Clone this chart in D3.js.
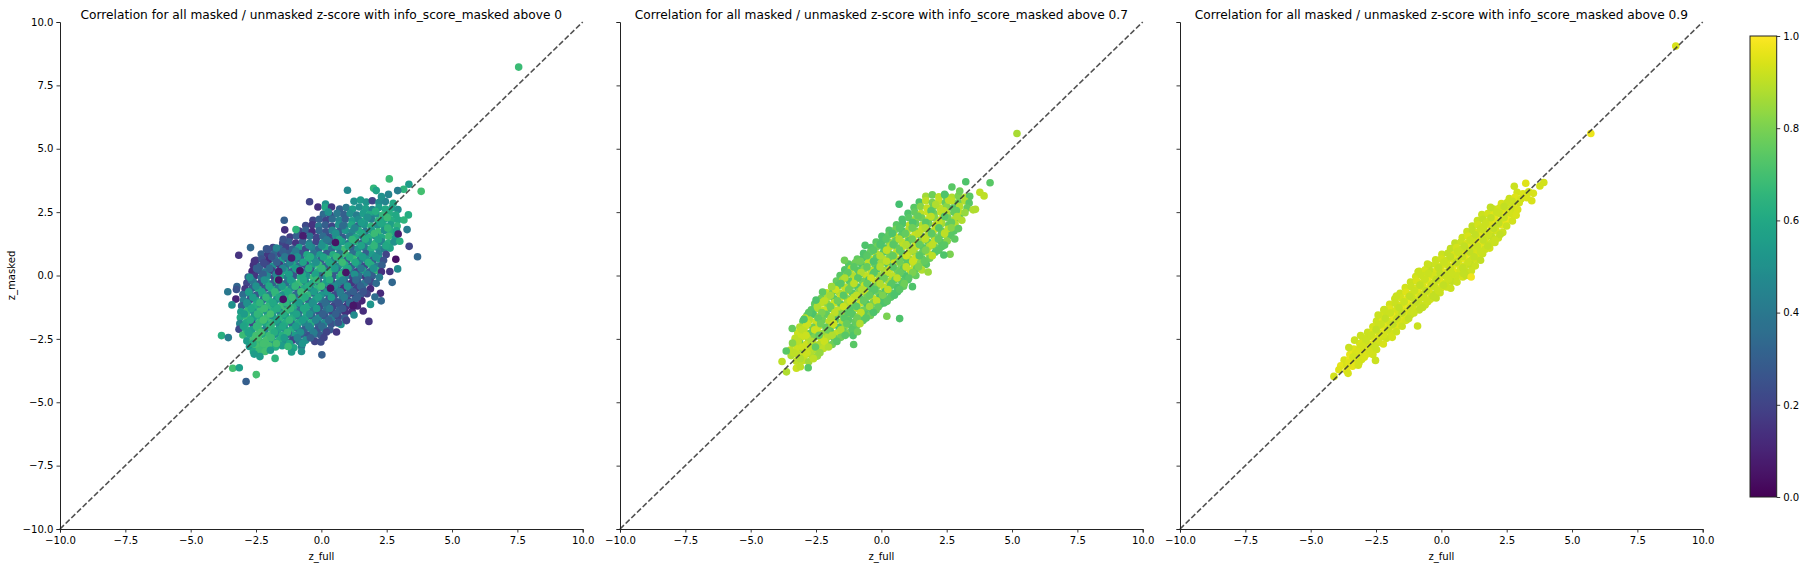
<!DOCTYPE html>
<html><head><meta charset="utf-8">
<script src="https://cdn.jsdelivr.net/npm/d3@7"></script>
<style>html,body{margin:0;background:#fff}svg{display:block}text{font-family:"DejaVu Sans",sans-serif;fill:#000}</style>
</head><body><svg id="c" width="1806" height="568"></svg>
<script>
const tickValues=[-10,-7.5,-5,-2.5,0,2.5,5,7.5,10];
const colorTicks=[0,0.2,0.4,0.6,0.8,1];
const thresholds=["0","0.7","0.9"];
// flat lists: z_full, z_masked, info_score_masked
const panel1=[
1.25,2.93,.5,1.5,2.98,.55,1.72,2.9,.52,1.95,2.95,.2,2.2,2.88,.48,2.45,2.92,.45,2.75,2.85,.6,
.7,2.62,.3,.95,2.68,.4,1.2,2.62,.55,1.45,2.7,.5,1.7,2.64,.56,1.95,2.6,.45,2.2,2.68,.55,2.45,2.62,.6,2.7,2.66,.58,2.93,2.6,.5,
.08,2.42,.35,.34,2.38,.22,.6,2.45,.4,.86,2.4,.3,1.1,2.44,.5,1.35,2.38,.42,1.6,2.45,.55,1.85,2.4,.6,2.1,2.43,.5,2.35,2.38,.66,2.6,2.44,.62,2.85,2.38,.6,
-.32,2.18,.2,-.08,2.22,.3,.18,2.17,.2,.42,2.23,.35,.68,2.18,.45,.92,2.22,.3,1.18,2.16,.55,1.42,2.22,.48,1.68,2.18,.6,1.92,2.22,.42,2.18,2.16,.65,2.42,2.22,.58,2.68,2.17,.62,2.93,2.2,.6,
-.6,1.97,.22,-.35,2.0,.15,-.1,1.95,.4,.15,1.99,.3,.4,1.94,.2,.66,2,.5,.9,1.95,.38,1.15,1.99,.6,1.4,1.95,.3,1.65,2,.52,1.9,1.94,.65,2.15,1.98,.5,2.4,1.95,.6,2.65,2,.56,2.9,1.95,.65,
-.85,1.75,.2,-.6,1.78,.3,-.35,1.73,.12,-.08,1.77,.33,.18,1.72,.25,.42,1.78,.45,.68,1.73,.3,.92,1.78,.52,1.18,1.72,.46,1.42,1.78,.62,1.68,1.73,.4,1.92,1.78,.55,2.18,1.72,.68,2.42,1.78,.5,2.68,1.73,.62,2.88,1.76,.58,
-1.2,1.52,.18,-.95,1.56,.3,-.7,1.5,.13,-.44,1.55,.38,-.18,1.5,.2,.06,1.55,.35,.32,1.5,.22,.56,1.55,.5,.82,1.5,.28,1.08,1.55,.42,1.32,1.5,.6,1.58,1.55,.35,1.82,1.5,.62,2.08,1.55,.5,2.32,1.5,.6,2.58,1.55,.68,2.84,1.5,.55,
-1.48,1.28,.2,-1.24,1.33,.28,-.98,1.28,.15,-.72,1.33,.3,-.46,1.27,.42,-.2,1.33,.2,.05,1.28,.5,.3,1.33,.35,.55,1.28,.22,.8,1.33,.55,1.05,1.27,.4,1.3,1.33,.62,1.56,1.28,.3,1.8,1.33,.5,2.06,1.27,.65,2.3,1.33,.45,2.56,1.28,.62,2.78,1.32,.5,
-2.1,1.05,.28,-1.85,1.1,.2,-1.6,1.05,.35,-1.35,1.1,.18,-1.1,1.04,.3,-.85,1.1,.55,-.6,1.05,.22,-.35,1.1,.45,-.1,1.05,.32,.15,1.1,.6,.4,1.05,.35,.65,1.1,.5,.9,1.04,.68,1.15,1.1,.3,1.4,1.05,.52,1.65,1.1,.4,1.9,1.05,.62,2.15,1.1,.5,2.4,1.05,.42,2.63,1.08,.58,
-2.3,.85,.3,-2.05,.82,.16,-1.8,.87,.32,-1.55,.83,.2,-1.3,.87,.28,-1.05,.82,.48,-.8,.87,.25,-.55,.82,.6,-.3,.87,.38,-.05,.82,.55,.2,.87,.28,.45,.82,.62,.7,.87,.42,.95,.82,.68,1.2,.87,.36,1.45,.82,.6,1.7,.87,.3,1.95,.82,.55,2.2,.87,.45,2.48,.83,.2,
-2.5,.6,.18,-2.28,.65,.25,-2.02,.6,.12,-1.78,.65,.35,-1.52,.6,.55,-1.28,.65,.22,-1.02,.6,.45,-.78,.65,.3,-.52,.6,.62,-.28,.65,.48,-.02,.6,.3,.22,.65,.66,.48,.6,.42,.72,.65,.58,.98,.6,.28,1.22,.65,.68,1.48,.6,.4,1.72,.65,.5,1.98,.6,.3,2.22,.65,.55,2.38,.6,.25,
-2.6,.4,.14,-2.35,.36,.3,-2.1,.42,.2,-1.85,.37,.5,-1.6,.42,.15,-1.35,.36,.38,-1.1,.42,.6,-.85,.37,.35,-.6,.42,.22,-.35,.37,.55,-.1,.42,.68,.15,.37,.3,.4,.42,.6,.65,.37,.45,.9,.42,.62,1.15,.36,.3,1.4,.42,.52,1.65,.37,.22,1.9,.42,.62,2.15,.37,.42,2.32,.4,.3,
-2.65,.17,.12,-2.4,.2,.28,-2.15,.15,.4,-1.9,.2,.18,-1.65,.15,.3,-1.4,.2,.58,-1.15,.15,.3,-.9,.2,.65,-.65,.15,.4,-.4,.2,.25,-.15,.15,.62,.1,.2,.48,.35,.15,.66,.6,.2,.32,.85,.15,.55,1.1,.2,.38,1.35,.15,.2,1.6,.2,.58,1.85,.15,.3,2.1,.2,.65,2.3,.15,.14,
-2.8,-.06,.28,-2.55,-.02,.15,-2.3,-.08,.35,-2.05,-.02,.48,-1.8,-.07,.2,-1.55,-.02,.6,-1.3,-.07,.42,-1.05,-.02,.25,-.8,-.07,.62,-.55,-.02,.5,-.3,-.07,.68,-.05,-.02,.35,.2,-.07,.55,.45,-.02,.28,.7,-.07,.6,.95,-.02,.42,1.2,-.07,.2,1.45,-.02,.36,1.7,-.07,.16,1.95,-.02,.3,2.22,-.07,.42,
-2.85,-.3,.2,-2.6,-.26,.42,-2.35,-.32,.22,-2.1,-.26,.58,-1.85,-.31,.3,-1.6,-.26,.66,-1.35,-.31,.35,-1.1,-.26,.58,-.85,-.31,.68,-.6,-.26,.4,-.35,-.31,.6,-.1,-.26,.3,.15,-.31,.55,.4,-.26,.2,.65,-.31,.45,.9,-.26,.32,1.15,-.31,.15,1.4,-.26,.28,1.65,-.31,.4,1.9,-.26,.2,2.1,-.31,.35,
-2.92,-.52,.16,-2.65,-.5,.3,-2.4,-.55,.6,-2.15,-.5,.25,-1.9,-.55,.62,-1.65,-.5,.4,-1.4,-.55,.66,-1.15,-.5,.48,-.9,-.55,.3,-.65,-.5,.6,-.4,-.55,.42,-.15,-.5,.65,.1,-.55,.28,.35,-.5,.5,.6,-.55,.35,.85,-.5,.14,1.1,-.55,.4,1.35,-.5,.18,1.6,-.55,.3,1.88,-.52,.12,
-3,-.75,.35,-2.75,-.72,.45,-2.5,-.78,.28,-2.25,-.72,.6,-2,-.77,.42,-1.75,-.72,.68,-1.5,-.77,.5,-1.25,-.72,.65,-1,-.77,.34,-.75,-.72,.6,-.5,-.77,.66,-.25,-.72,.3,0,-.77,.52,.25,-.72,.36,.5,-.77,.22,.75,-.72,.46,1,-.77,.3,1.25,-.72,.14,1.5,-.77,.28,1.75,-.72,.2,
-2.98,-.98,.42,-2.72,-.95,.25,-2.48,-1,.58,-2.22,-.95,.34,-1.98,-1,.62,-1.72,-.95,.48,-1.48,-1,.5,-1.22,-.95,.62,-.98,-1,.5,-.72,-.95,.66,-.48,-1,.3,-.22,-.95,.55,.02,-1,.4,.28,-.95,.26,.52,-1,.28,.78,-.95,.38,1.02,-1,.2,1.28,-.95,.3,1.55,-1,.1,
-3.05,-1.2,.3,-2.8,-1.17,.55,-2.55,-1.22,.62,-2.3,-1.17,.45,-2.05,-1.22,.66,-1.8,-1.17,.55,-1.55,-1.22,.68,-1.3,-1.17,.4,-1.05,-1.22,.62,-.8,-1.17,.3,-.55,-1.22,.6,-.3,-1.17,.5,-.05,-1.22,.24,.2,-1.17,.42,.45,-1.22,.2,.7,-1.17,.3,.95,-1.22,.15,1.2,-1.17,.06,1.38,-1.2,.1,
-3.08,-1.43,.55,-2.83,-1.4,.66,-2.58,-1.45,.5,-2.33,-1.4,.68,-2.08,-1.45,.5,-1.83,-1.4,.62,-1.58,-1.45,.44,-1.33,-1.4,.68,-1.08,-1.45,.56,-.83,-1.4,.35,-.58,-1.45,.62,-.33,-1.4,.42,-.08,-1.45,.25,.17,-1.4,.36,.42,-1.45,.2,.67,-1.4,.3,.92,-1.45,.14,1.18,-1.41,.12,
-3.1,-1.66,.6,-2.85,-1.63,.68,-2.6,-1.68,.55,-2.35,-1.63,.62,-2.1,-1.68,.68,-1.85,-1.63,.5,-1.6,-1.68,.65,-1.35,-1.63,.55,-1.1,-1.68,.62,-.85,-1.63,.42,-.6,-1.68,.58,-.35,-1.63,.3,-.1,-1.68,.48,.15,-1.63,.26,.4,-1.68,.42,.65,-1.63,.2,.9,-1.68,.3,
-3.12,-1.9,.45,-2.88,-1.87,.6,-2.62,-1.92,.2,-2.38,-1.87,.66,-2.12,-1.92,.58,-1.88,-1.87,.66,-1.62,-1.92,.5,-1.38,-1.87,.62,-1.12,-1.92,.35,-.88,-1.87,.6,-.62,-1.92,.44,-.38,-1.87,.62,-.12,-1.92,.3,.12,-1.87,.48,.38,-1.92,.25,.62,-1.87,.38,.75,-1.93,.5,
-3.15,-2.12,.22,-2.9,-2.1,.62,-2.65,-2.14,.55,-2.4,-2.1,.68,-2.15,-2.14,.45,-1.9,-2.1,.66,-1.65,-2.14,.58,-1.4,-2.1,.5,-1.15,-2.14,.62,-.9,-2.1,.42,-.65,-2.14,.3,-.4,-2.1,.48,-.15,-2.14,.26,.1,-2.1,.4,.33,-2.14,.28,
-3,-2.35,.68,-2.75,-2.32,.58,-2.5,-2.37,.7,-2.25,-2.32,.6,-2,-2.37,.68,-1.75,-2.32,.5,-1.5,-2.37,.62,-1.25,-2.32,.32,-1,-2.37,.55,-.75,-2.32,.3,-.5,-2.37,.25,-.25,-2.32,.38,-.02,-2.37,.28,
-2.85,-2.58,.55,-2.6,-2.55,.7,-2.35,-2.6,.66,-2.1,-2.55,.7,-1.85,-2.6,.52,-1.6,-2.55,.62,-1.35,-2.6,.48,-1.1,-2.55,.2,-.85,-2.6,.4,-.6,-2.55,.5,-.25,-2.6,.2,
-2.75,-2.8,.55,-2.5,-2.77,.7,-2.25,-2.82,.68,-2,-2.77,.7,-1.75,-2.82,.62,-1.5,-2.77,.55,-1.25,-2.8,.68,-1.05,-2.85,.6,-.76,-2.8,.4,
-2.6,-3,.6,-2.38,-2.97,.68,-2.15,-3,.7,-1.95,-2.95,.55,
// off-row overlay
2.07,2.53,.62,2.52,2.29,.68,2.27,2.07,.6,1.77,2.3,.5,1.53,2.08,.55,2.54,1.87,.66,2.03,1.65,.68,1.55,1.66,.6,1.28,1.87,.45,.82,1.96,.35,.55,1.67,.5,.2,1.41,.4,.68,1.42,.58,1.18,1.42,.66,1.68,1.43,.62,2.18,1.42,.58,2.47,1.17,.6,2.02,1.17,.66,1.53,1.18,.58,1.03,1.17,.6,.53,1.18,.55,.02,1.18,.5,-.47,1.19,.48,-.98,.96,.42,-1.47,.95,.3,-1.9,.74,.25,-1.4,.74,.4,-.92,.74,.5,-.42,.74,.62,.08,.73,.58,.58,.74,.66,1.08,.73,.62,1.58,.74,.55,2.08,.73,.5,1.8,.52,.62,1.3,.52,.6,.8,.52,.68,.3,.52,.6,-.2,.52,.5,-.7,.52,.58,-1.2,.52,.45,-1.7,.52,.3,-2.2,.5,.22,-2.48,.28,.3,-1.98,.28,.35,-1.48,.28,.45,-.98,.28,.55,-.48,.28,.62,.02,.28,.66,.52,.28,.55,1.02,.28,.6,1.52,.28,.4,2,.28,.5,1.75,.05,.45,1.27,.05,.5,.77,.05,.66,.27,.05,.68,-.23,.05,.58,-.73,.05,.6,-1.23,.05,.55,-1.73,.05,.45,-2.23,.05,.3,-2.68,-.18,.4,-2.18,-.18,.5,-1.68,-.18,.62,-1.18,-.18,.55,-.68,-.18,.6,-.18,-.18,.66,.32,-.18,.62,.82,-.18,.45,1.32,-.18,.35,1.78,-.18,.3,1.5,-.42,.32,1,-.42,.5,.5,-.42,.48,0,-.42,.68,-.5,-.42,.62,-1,-.42,.66,-1.5,-.42,.55,-2,-.42,.6,-2.5,-.42,.5,-2.78,-.64,.55,-2.28,-.64,.58,-1.78,-.64,.66,-1.28,-.64,.6,-.78,-.64,.68,-.28,-.64,.55,.22,-.64,.52,.72,-.64,.42,1.22,-.64,.3,1.6,-.64,.26,1.38,-.86,.3,.88,-.86,.42,.38,-.86,.55,-.12,-.86,.58,-.62,-.86,.62,-1.12,-.86,.68,-1.62,-.86,.6,-2.12,-.86,.66,-2.62,-.86,.55,-2.85,-1.08,.5,-2.35,-1.08,.66,-1.85,-1.08,.6,-1.35,-1.08,.65,-.85,-1.08,.55,-.35,-1.08,.5,.15,-1.08,.35,.65,-1.08,.25,1.08,-1.08,.35,.82,-1.3,.28,.32,-1.3,.42,-.18,-1.3,.55,-.68,-1.3,.6,-1.18,-1.3,.66,-1.68,-1.3,.62,-2.18,-1.3,.68,-2.68,-1.3,.6,-2.95,-1.52,.55,-2.45,-1.52,.66,-1.95,-1.52,.7,-1.45,-1.52,.62,-.95,-1.52,.58,-.45,-1.52,.5,.05,-1.52,.3,.55,-1.52,.3,.28,-1.76,.32,-.22,-1.76,.45,-.72,-1.76,.55,-1.22,-1.76,.66,-1.72,-1.76,.58,-2.22,-1.76,.7,-2.72,-1.76,.62,-2.98,-2,.58,-2.48,-2,.66,-1.98,-2,.65,-1.48,-2,.6,-.98,-2,.55,-.48,-2,.45,.02,-2,.35,-.3,-2.24,.42,-.8,-2.24,.5,-1.3,-2.24,.66,-1.8,-2.24,.62,-2.3,-2.24,.7,-2.8,-2.24,.58,-2.42,-2.46,.7,-1.92,-2.46,.68,-1.42,-2.46,.55,-.92,-2.46,.45,-.42,-2.46,.3,-.72,-2.68,.52,-1.22,-2.68,.6,-1.72,-2.68,.7,-2.22,-2.68,.7,-2.62,-2.68,.62,
7.55,8.22,.68,2.6,3.81,.68,1,3.36,.47,2,3.44,.66,2.1,3.35,.58,3.35,3.6,.55,3.15,3.4,.65,3.82,3.32,.7,2.92,3.35,.42,2.57,3.2,.45,2.3,3.11,.5,-.45,2.91,.2,-.13,2.7,.14,.16,2.82,.5,.15,2.69,.6,.39,2.7,.16,.27,2.5,.5,
3.33,2.39,.62,3.16,2.19,.65,3.28,1.81,.42,2.94,1.64,.08,3,1.35,.62,3.36,1.15,.2,3.68,.74,.33,2.85,.64,.04,2.62,.16,.15,2.92,.26,.48,2.71,-.27,.33,2.26,-.7,.12,2.05,-.85,.35,2.29,-1,.33,1.88,-1.14,.52,1.6,-1.4,.13,1.22,-1.19,.06,1.25,-1.56,.48,.96,-1.78,.2,1.82,-1.81,.15,.58,-2.23,.16,.65,-1.85,.25,.2,-2.23,.2,-.02,-2.62,.22,.1,-2.45,.2,.02,-3.13,.3,
-2.71,1.1,.33,-3.16,.8,.15,-2.56,.57,.15,-3.58,-.64,.4,-3.23,-.44,.32,-3.25,-.55,.25,-3.27,-.93,.1,-3.42,-1.16,.5,-2.74,-.07,.5,-3.82,-2.37,.63,-3.56,-2.45,.42,-3.39,-3.66,.7,-3.14,-3.64,.56,-2.49,-3.91,.7,-2.88,-4.18,.3,-1.77,-3.27,.65,-2.35,-3.2,.55,-2.57,-3.1,.55,-1.14,-3.02,.55,-.76,-3,.5,-1.27,-2.8,.68,-1.42,2.18,.3,-1.4,1.8,.14,-1.46,1.43,.25,-.97,1.81,.65,-2.05,1.03,.25,-1.72,1.08,.45,
-.82,.19,.05,-1.63,-.18,.05,-1.46,-.94,.05,.54,1.3,.05,.94,.12,.05,.35,-.5,.05,-1.14,.69,.08,-1.63,.16,.08,-.7,1.57,.08
];
const panel2=[
1.7,3.12,.86,1.95,3.18,.78,2.2,3.1,.9,2.45,3.15,.76,2.7,3.08,.88,2.95,3.14,.8,3.2,3.08,.88,3.38,3.12,.74,
1.45,2.9,.72,1.7,2.95,.9,1.95,2.88,.8,2.2,2.94,.91,2.45,2.88,.76,2.7,2.94,.9,2.95,2.88,.78,3.2,2.94,.88,3.36,2.86,.74,
1.25,2.68,.74,1.5,2.72,.82,1.75,2.66,.91,2,2.72,.78,2.25,2.66,.9,2.5,2.72,.82,2.75,2.66,.74,3,2.72,.89,3.28,2.66,.76,
1.02,2.45,.72,1.28,2.5,.76,1.52,2.44,.9,1.78,2.5,.92,2.02,2.44,.78,2.28,2.5,.9,2.52,2.44,.88,2.78,2.5,.76,3.02,2.44,.9,3.2,2.48,.84,
.8,2.22,.72,1.05,2.28,.74,1.3,2.22,.86,1.55,2.27,.78,1.8,2.21,.91,2.05,2.27,.82,2.3,2.21,.92,2.55,2.27,.78,2.8,2.21,.88,3,2.26,.76,
.58,2,.74,.82,2.05,.72,1.08,1.99,.9,1.32,2.05,.76,1.58,1.99,.88,1.82,2.05,.78,2.08,1.99,.92,2.32,2.05,.86,2.58,1.99,.76,2.82,2.04,.88,
.3,1.78,.73,.55,1.82,.78,.8,1.76,.72,1.05,1.82,.88,1.3,1.76,.8,1.55,1.82,.91,1.8,1.76,.74,2.05,1.82,.9,2.3,1.76,.78,2.55,1.82,.9,2.78,1.76,.74,
.02,1.55,.72,.28,1.6,.75,.52,1.54,.9,.78,1.6,.74,1.02,1.54,.86,1.28,1.6,.92,1.52,1.54,.76,1.78,1.6,.88,2.02,1.54,.8,2.28,1.6,.76,2.52,1.54,.88,2.66,1.58,.74,
-.2,1.32,.74,.05,1.37,.72,.3,1.31,.82,.55,1.37,.76,.8,1.31,.9,1.05,1.37,.74,1.3,1.31,.91,1.55,1.37,.84,1.8,1.31,.76,2.05,1.37,.9,2.3,1.31,.74,2.52,1.36,.82,
-.4,1.1,.73,-.15,1.15,.78,.1,1.09,.72,.35,1.15,.88,.6,1.09,.76,.85,1.15,.9,1.1,1.09,.82,1.35,1.15,.92,1.6,1.09,.74,1.85,1.15,.88,2.1,1.09,.78,2.32,1.14,.74,
-.68,.88,.72,-.42,.92,.76,-.18,.86,.88,.08,.92,.74,.32,.86,.8,.58,.92,.91,.82,.86,.74,1.08,.92,.9,1.32,.86,.82,1.58,.92,.76,1.82,.86,.9,2.06,.92,.74,
-.92,.65,.76,-.68,.7,.72,-.42,.64,.9,-.18,.7,.74,.08,.64,.88,.32,.7,.78,.58,.64,.91,.82,.7,.74,1.08,.64,.86,1.32,.7,.92,1.58,.64,.76,1.85,.68,.78,
-1.25,.45,.74,-1,.5,.78,-.75,.44,.72,-.5,.5,.9,-.25,.44,.76,0,.5,.86,.25,.44,.74,.5,.5,.92,.75,.44,.8,1,.5,.74,1.25,.44,.9,1.5,.5,.82,1.72,.44,.74,
-1.4,.22,.73,-1.15,.27,.9,-.9,.21,.74,-.65,.27,.82,-.4,.21,.9,-.15,.27,.72,.1,.21,.86,.35,.27,.92,.6,.21,.78,.85,.27,.74,1.1,.21,.91,1.35,.27,.76,1.55,.22,.88,
-1.58,0,.74,-1.32,.05,.78,-1.08,-.01,.88,-.82,.05,.73,-.58,-.01,.91,-.32,.05,.76,-.08,-.01,.84,.18,.05,.74,.42,-.01,.9,.68,.05,.78,.92,-.01,.72,1.18,.05,.88,1.32,0,.76,
-1.72,-.22,.76,-1.48,-.17,.86,-1.22,-.23,.74,-.98,-.17,.9,-.72,-.23,.78,-.48,-.17,.72,-.22,-.23,.91,.02,-.17,.74,.28,-.23,.86,.52,-.17,.76,.78,-.23,.74,1.02,-.17,.72,
-1.9,-.45,.88,-1.65,-.4,.74,-1.4,-.46,.9,-1.15,-.4,.78,-.9,-.46,.73,-.65,-.4,.92,-.4,-.46,.74,-.15,-.4,.8,.1,-.46,.9,.35,-.4,.74,.6,-.46,.72,.85,-.42,.76,
-2.1,-.68,.9,-1.85,-.63,.76,-1.6,-.69,.88,-1.35,-.63,.91,-1.1,-.69,.74,-.85,-.63,.82,-.6,-.69,.9,-.35,-.63,.74,-.1,-.69,.78,.15,-.63,.72,.4,-.69,.74,.62,-.64,.72,
-2.3,-.9,.78,-2.05,-.86,.88,-1.8,-.92,.74,-1.55,-.86,.92,-1.3,-.92,.8,-1.05,-.86,.9,-.8,-.92,.74,-.55,-.86,.78,-.3,-.92,.9,-.05,-.86,.72,.18,-.92,.76,.36,-.86,.74,
-2.55,-1.12,.75,-2.3,-1.08,.9,-2.05,-1.14,.82,-1.8,-1.08,.92,-1.55,-1.14,.74,-1.3,-1.08,.88,-1.05,-1.14,.76,-.8,-1.08,.91,-.55,-1.14,.72,-.3,-1.08,.8,-.05,-1.14,.74,.1,-1.08,.72,
-2.68,-1.35,.74,-2.42,-1.3,.88,-2.18,-1.36,.92,-1.92,-1.3,.76,-1.68,-1.36,.9,-1.42,-1.3,.82,-1.18,-1.36,.74,-.92,-1.3,.88,-.68,-1.36,.78,-.42,-1.3,.74,-.2,-1.36,.76,
-2.85,-1.58,.76,-2.6,-1.53,.72,-2.35,-1.59,.9,-2.1,-1.53,.76,-1.85,-1.59,.92,-1.6,-1.53,.8,-1.35,-1.59,.9,-1.1,-1.53,.74,-.85,-1.59,.86,-.6,-1.53,.74,-.42,-1.58,.78,
-3,-1.8,.74,-2.75,-1.76,.88,-2.5,-1.82,.92,-2.25,-1.76,.78,-2,-1.82,.9,-1.75,-1.76,.72,-1.5,-1.82,.88,-1.25,-1.76,.74,-1,-1.82,.76,-.7,-1.78,.74,
-3.12,-2.03,.88,-2.88,-1.98,.92,-2.62,-2.04,.78,-2.38,-1.98,.91,-2.12,-2.04,.76,-1.88,-1.98,.9,-1.62,-2.04,.72,-1.38,-1.98,.84,-1.12,-2.04,.74,-.95,-1.98,.76,
-3.2,-2.26,.92,-2.95,-2.2,.9,-2.7,-2.27,.76,-2.45,-2.2,.92,-2.2,-2.27,.84,-1.95,-2.2,.74,-1.7,-2.27,.9,-1.45,-2.2,.76,-1.25,-2.26,.8,
-3.3,-2.48,.9,-3.05,-2.43,.92,-2.8,-2.49,.88,-2.55,-2.43,.8,-2.3,-2.49,.92,-2.05,-2.43,.88,-1.8,-2.49,.76,-1.55,-2.44,.78,
-3.38,-2.7,.91,-3.12,-2.66,.76,-2.88,-2.72,.92,-2.62,-2.66,.9,-2.38,-2.72,.88,-2.12,-2.66,.84,-1.88,-2.72,.78,
-3.48,-2.94,.9,-3.22,-2.88,.92,-2.98,-2.95,.84,-2.72,-2.88,.9,-2.48,-2.95,.88,-2.22,-2.88,.9,
-3.45,-3.16,.88,-3.2,-3.12,.9,-2.95,-3.18,.92,-2.7,-3.12,.88,-2.45,-3.18,.85,
-3.25,-3.38,.9,-3,-3.35,.91,-2.78,-3.4,.86,
// off-row overlay
2.58,2.97,.9,2.08,2.8,.88,2.87,2.56,.76,2.4,2.55,.9,1.9,2.55,.74,1.4,2.35,.76,1.9,2.33,.9,2.42,2.33,.74,2.9,2.33,.88,2.68,2.1,.76,2.2,2.1,.9,1.7,2.1,.74,1.2,2.1,.72,.7,1.88,.74,1.18,1.88,.78,1.68,1.88,.88,2.2,1.88,.74,2.68,1.88,.82,2.42,1.66,.9,1.92,1.66,.75,1.42,1.66,.9,.92,1.66,.76,.42,1.66,.72,.18,1.44,.74,.68,1.44,.88,1.18,1.44,.78,1.68,1.44,.9,2.18,1.44,.76,2.42,1.2,.74,1.95,1.22,.9,1.45,1.22,.76,.95,1.22,.88,.45,1.22,.74,-.05,1.22,.72,-.3,1,.74,.2,1,.9,.7,1,.76,1.2,1,.88,1.7,1,.8,2.2,1,.74,1.95,.78,.9,1.45,.78,.74,.95,.78,.92,.45,.78,.76,-.05,.78,.88,-.55,.78,.74,-.8,.56,.78,-.3,.56,.72,.2,.56,.9,.7,.56,.78,1.2,.56,.92,1.65,.56,.76,1.42,.34,.8,.95,.34,.9,.45,.34,.74,-.05,.34,.88,-.55,.34,.76,-1.05,.34,.74,-1.28,.12,.75,-.78,.12,.88,-.28,.12,.74,.22,.12,.9,.72,.12,.76,1.2,.12,.8,1.05,-.1,.74,.6,-.1,.9,.1,-.1,.78,-.4,-.1,.92,-.9,-.1,.74,-1.4,-.1,.88,-1.55,-.32,.74,-1.05,-.32,.9,-.55,-.32,.76,-.05,-.32,.88,.4,-.32,.74,.88,-.32,.78,.7,-.55,.74,.25,-.55,.9,-.25,-.55,.74,-.75,-.55,.88,-1.25,-.55,.78,-1.75,-.55,.92,-1.95,-.78,.86,-1.45,-.78,.74,-.95,-.78,.9,-.45,-.78,.76,.05,-.78,.8,.5,-.78,.72,.22,-1.02,.74,-.18,-1,.9,-.68,-1,.76,-1.18,-1,.92,-1.68,-1,.78,-2.18,-1,.9,-2.45,-1.22,.88,-1.95,-1.22,.78,-1.45,-1.22,.92,-.95,-1.22,.74,-.45,-1.22,.86,-.12,-1.24,.76,-.3,-1.46,.72,-.78,-1.46,.9,-1.28,-1.46,.74,-1.78,-1.46,.9,-2.28,-1.46,.8,-2.78,-1.46,.74,-2.92,-1.68,.9,-2.42,-1.68,.76,-1.92,-1.68,.88,-1.42,-1.68,.74,-.92,-1.68,.78,-.58,-1.68,.74,-.82,-1.9,.88,-1.32,-1.9,.76,-1.82,-1.9,.92,-2.32,-1.9,.78,-2.82,-1.9,.92,-3.05,-2.14,.9,-2.55,-2.14,.92,-2.05,-2.14,.78,-1.55,-2.14,.88,-1.1,-2.14,.74,-1.38,-2.36,.74,-1.88,-2.36,.88,-2.38,-2.36,.76,-2.88,-2.36,.92,-3.18,-2.6,.9,-2.68,-2.6,.88,-2.18,-2.6,.92,-1.7,-2.6,.74,-2.02,-2.82,.88,-2.52,-2.82,.76,-3.02,-2.82,.92,-3.35,-3.05,.9,-2.85,-3.05,.92,-2.35,-3.05,.84,-3.1,-3.28,.88,-2.6,-3.28,.9,
5.19,5.6,.87,3.23,3.7,.72,4.16,3.66,.74,2.7,3.49,.74,2.42,3.2,.72,3,3.33,.78,3.77,3.28,.9,3.93,3.14,.9,.68,2.81,.7,3.6,2.61,.88,3.51,2.59,.88,3.08,2.18,.88,2.95,1.85,.75,2.81,1.44,.75,2.63,.84,.8,2.39,.81,.72,1.79,.14,.85,1.19,-.44,.72,.21,-1.61,.8,.7,-1.7,.72,-.62,1.19,.72,-1.41,.6,.78,-2.5,-.97,.72,-2.25,-.65,.75,-1.9,-.44,.85,-2.96,-1.73,.72,-3.41,-2.09,.76,-3.4,-2.66,.82,-3.64,-2.98,.74,-3.8,-3.39,.9,-3.63,-3.8,.88,-3.25,-3.66,.92,-3.1,-3.6,.9,-2.8,-3.64,.74,-1.06,-2.72,.74,-1.08,-2.37,.72,-.91,-2.22,.78
];
const panel3=[
2.9,3.28,.93,3.12,3.22,.94,3.34,3.3,.92,3.52,3.24,.94,
2.6,3.04,.92,2.82,3.08,.95,3.05,3.02,.93,3.28,3.07,.94,
2.3,2.84,.94,2.52,2.88,.92,2.75,2.82,.95,2.98,2.87,.93,
2,2.62,.92,2.22,2.66,.93,2.45,2.6,.95,2.68,2.65,.92,2.92,2.6,.94,
1.55,2.4,.92,1.78,2.44,.93,2,2.38,.95,2.24,2.43,.92,2.46,2.38,.96,2.7,2.42,.93,2.86,2.38,.94,
1.38,2.17,.92,1.6,2.22,.91,1.84,2.16,.93,2.06,2.21,.96,2.3,2.15,.94,2.52,2.2,.97,2.72,2.15,.93,
1.18,1.95,.91,1.4,2,.93,1.62,1.94,.92,1.86,1.99,.95,2.08,1.94,.93,2.32,1.99,.96,2.5,1.95,.92,
.98,1.73,.92,1.2,1.77,.91,1.42,1.71,.94,1.65,1.76,.92,1.88,1.71,.96,2.1,1.76,.93,2.35,1.7,.92,
.8,1.5,.92,1.02,1.55,.94,1.25,1.49,.92,1.48,1.54,.95,1.7,1.49,.93,1.92,1.54,.91,2.18,1.48,.92,
.52,1.28,.91,.75,1.32,.92,.98,1.26,.94,1.2,1.31,.93,1.42,1.26,.97,1.65,1.31,.94,1.88,1.26,.92,2.05,1.3,.92,
.35,1.06,.91,.58,1.1,.93,.8,1.04,.92,1.02,1.09,.95,1.25,1.03,.93,1.48,1.09,.96,1.68,1.04,.92,1.85,1.08,.93,
.02,.84,.92,.25,.88,.91,.48,.82,.94,.7,.87,.92,.92,.82,.96,1.15,.87,.93,1.38,.81,.94,1.58,.86,.92,
-.22,.62,.92,0,.66,.93,.22,.6,.92,.45,.65,.95,.68,.6,.93,.9,.65,.97,1.12,.59,.92,1.35,.64,.93,1.5,.6,.91,
-.45,.4,.91,-.22,.44,.92,0,.38,.94,.22,.43,.93,.45,.38,.96,.68,.43,.94,.9,.37,.93,1.12,.42,.91,1.3,.38,.92,
-.85,.17,.92,-.62,.22,.93,-.4,.16,.91,-.18,.21,.94,.05,.15,.96,.28,.2,.92,.5,.15,.95,.72,.2,.93,.95,.14,.91,1.15,.19,.92,
-.98,-.04,.93,-.75,0,.92,-.52,-.06,.95,-.3,-.01,.93,-.08,-.06,.97,.15,-.01,.92,.38,-.06,.94,.6,-.01,.92,.82,-.06,.93,.95,0,.91,
-1.18,-.26,.92,-.95,-.22,.94,-.72,-.28,.93,-.5,-.23,.96,-.28,-.28,.92,-.05,-.23,.95,.18,-.28,.93,.4,-.23,.91,.6,-.26,.92,
-1.38,-.48,.93,-1.15,-.44,.92,-.92,-.5,.94,-.7,-.45,.93,-.48,-.5,.97,-.25,-.45,.92,-.02,-.5,.94,.2,-.45,.92,.36,-.5,.92,
-1.58,-.7,.92,-1.35,-.66,.95,-1.12,-.72,.93,-.9,-.67,.96,-.68,-.72,.93,-.45,-.67,.94,-.22,-.72,.91,-.05,-.68,.92,
-1.78,-.92,.92,-1.55,-.88,.93,-1.32,-.94,.96,-1.1,-.89,.92,-.88,-.94,.95,-.65,-.89,.92,-.42,-.94,.93,-.2,-.89,.91,
-1.98,-1.14,.93,-1.75,-1.1,.92,-1.52,-1.16,.94,-1.3,-1.11,.97,-1.08,-1.16,.93,-.85,-1.11,.92,-.62,-1.16,.92,
-2.2,-1.36,.92,-1.98,-1.32,.95,-1.75,-1.38,.93,-1.52,-1.33,.96,-1.3,-1.38,.94,-1.08,-1.33,.93,-.85,-1.36,.91,
-2.3,-1.58,.93,-2.08,-1.54,.92,-1.85,-1.6,.97,-1.62,-1.55,.93,-1.4,-1.6,.95,-1.18,-1.55,.92,
-2.48,-1.8,.92,-2.25,-1.76,.95,-2.02,-1.82,.93,-1.8,-1.77,.96,-1.58,-1.82,.94,-1.35,-1.77,.93,
-2.62,-2.02,.93,-2.4,-1.98,.92,-2.18,-2.04,.96,-1.95,-1.99,.93,-1.72,-2.04,.95,-1.5,-2,.92,
-2.82,-2.24,.92,-2.6,-2.2,.95,-2.38,-2.26,.93,-2.15,-2.21,.97,-1.92,-2.26,.93,-1.72,-2.22,.92,
-3,-2.46,.93,-2.78,-2.42,.92,-2.55,-2.48,.95,-2.32,-2.43,.93,-2.1,-2.48,.92,-1.88,-2.44,.93,
-3.12,-2.68,.94,-2.9,-2.64,.93,-2.68,-2.7,.96,-2.45,-2.65,.92,-2.22,-2.7,.94,
-3.35,-2.9,.95,-3.12,-2.86,.93,-2.9,-2.92,.96,-2.68,-2.87,.94,-2.48,-2.92,.92,
-3.5,-3.12,.96,-3.28,-3.08,.94,-3.05,-3.14,.93,-2.82,-3.09,.95,-2.62,-3.12,.93,
-3.72,-3.34,.94,-3.5,-3.3,.97,-3.28,-3.36,.95,-3.05,-3.31,.93,
-3.85,-3.56,.96,-3.62,-3.52,.94,-3.4,-3.58,.96,-3.18,-3.54,.93,
-3.92,-3.72,.95,-3.62,-3.76,.96,
// off-row overlay
2.72,2.93,.92,2.4,2.72,.91,2.12,2.5,.92,2.58,2.5,.93,1.9,2.28,.91,2.4,2.28,.92,1.7,2.06,.92,2.2,2.06,.91,1.5,1.85,.92,2,1.85,.91,1.3,1.62,.91,1.8,1.62,.92,2.25,1.62,.91,1.1,1.4,.92,1.6,1.4,.91,2.05,1.4,.92,.88,1.16,.91,1.38,1.16,.92,1.78,1.16,.91,.62,.95,.92,1.08,.95,.91,1.5,.95,.92,.35,.74,.91,.82,.74,.92,1.25,.74,.91,.1,.52,.92,.58,.52,.91,1.02,.52,.92,-.1,.3,.91,.35,.3,.92,.82,.3,.91,-.5,.08,.92,-.05,.08,.91,.4,.08,.92,.85,.08,.91,-.62,-.15,.92,-.18,-.15,.91,.28,-.15,.92,-.82,-.38,.91,-.38,-.38,.92,.08,-.38,.91,-1.02,-.6,.92,-.58,-.6,.91,-.12,-.6,.92,-1.22,-.82,.91,-.78,-.82,.92,-.32,-.82,.91,-1.42,-1.04,.92,-.98,-1.04,.91,-.52,-1.04,.92,-1.62,-1.26,.91,-1.18,-1.26,.92,-.72,-1.26,.91,-1.95,-1.48,.92,-1.5,-1.48,.91,-1.05,-1.48,.92,-2.15,-1.7,.91,-1.7,-1.7,.92,-1.25,-1.7,.91,-2.3,-1.92,.92,-1.85,-1.92,.91,-2.5,-2.13,.91,-2.05,-2.13,.92,-2.68,-2.35,.92,-2.2,-2.35,.93,-2.88,-2.57,.92,-2.42,-2.57,.93,-3.02,-2.78,.93,-2.58,-2.78,.92,-3.2,-3,.94,-2.75,-3,.93,-3.38,-3.22,.93,-2.95,-3.22,.94,-3.55,-3.44,.95,-3.15,-3.44,.93,
8.97,9.05,.94,5.72,5.6,.97,2.79,3.52,.92,3.92,3.67,.93,3.77,3.53,.93,3.46,2.95,.94,3.23,3.64,.95,1.88,2.69,.91,1.14,-.06,.98,-.91,-1.99,.92,-2.52,-3.35,.92,-3.32,-2.55,.92,-3.54,-2.84,.92,-4.11,-3.98,.93,-3.57,-3.86,.94,-2.42,-1.56,.92,-2.19,-1.34,.92,-3.09,-2.37,.92,-.53,.45,.92,-.89,.15,.92,-1.72,-.81,.92
];
const panels=[panel1,panel2,panel3];

const svg=d3.select("#c");
const W=522.7,top_=22,bottom=529,lefts=[60,620,1180];
const y=d3.scaleLinear().domain([-10,10]).range([bottom,top_]);
const color=d3.scaleSequential(d3.interpolateViridis).domain([0,1]);
const fmt=d3.format(".1f");

function styleAxis(g){
  g.selectAll("path.domain").attr("stroke","#222").attr("stroke-width",1);
  g.selectAll(".tick line").attr("stroke","#222").attr("stroke-width",0.9);
  g.selectAll("text").attr("font-family","DejaVu Sans").attr("font-size",10.1).attr("fill","#111");
}
panels.forEach((flat,i)=>{
  const L=lefts[i];
  const x=d3.scaleLinear().domain([-10,10]).range([L,L+W]);
  const pts=d3.range(0,flat.length,3).map(k=>({x:flat[k],y:flat[k+1],c:flat[k+2]}));
  const g=svg.append("g");
  g.selectAll("circle").data(pts).join("circle")
    .attr("cx",d=>x(d.x)).attr("cy",d=>y(d.y)).attr("r",3.8).attr("fill",d=>color(d.c));
  g.append("line").attr("x1",x(-10)).attr("y1",y(-10)).attr("x2",x(10)).attr("y2",y(10))
    .attr("stroke","#333").attr("stroke-opacity",.85).attr("stroke-width",1.6).attr("stroke-dasharray","5.5 2.4");
  const ax=svg.append("g").attr("transform",`translate(0,${bottom})`)
    .call(d3.axisBottom(x).tickValues(tickValues).tickFormat(fmt).tickSize(3.5).tickPadding(4));
  styleAxis(ax);
  const ay=svg.append("g").attr("transform",`translate(${L},0)`)
    .call(d3.axisLeft(y).tickValues(tickValues).tickFormat(i===0?fmt:"").tickSize(3.5).tickPadding(3));
  styleAxis(ay);
  svg.append("text").attr("x",L+W/2).attr("y",19).attr("text-anchor","middle").attr("font-size",12.2)
    .text(`Correlation for all masked / unmasked z-score with info_score_masked above ${thresholds[i]}`);
  svg.append("text").attr("x",L+W/2).attr("y",560).attr("text-anchor","middle").attr("font-size",10.1).text("z_full");
});
svg.append("text").attr("transform",`translate(15,${(top_+bottom)/2}) rotate(-90)`).attr("text-anchor","middle").attr("font-size",10.1).text("z_masked");

// colour bar
const cbTop=36,cbBottom=497,cbL=1750,cbR=1776.7;
const cy=d3.scaleLinear().domain([0,1]).range([cbBottom,cbTop]);
const defs=svg.append("defs").append("linearGradient").attr("id","vir").attr("x1",0).attr("x2",0).attr("y1",1).attr("y2",0);
d3.range(0,1.0001,0.02).forEach(t=>defs.append("stop").attr("offset",t).attr("stop-color",color(t)));
svg.append("rect").attr("x",cbL).attr("y",cbTop).attr("width",cbR-cbL).attr("height",cbBottom-cbTop).attr("fill","url(#vir)").attr("stroke","#222").attr("stroke-width",1);
const cax=svg.append("g").attr("transform",`translate(${cbR},0)`)
  .call(d3.axisRight(cy).tickValues(colorTicks).tickFormat(fmt).tickSize(3.5).tickPadding(3));
cax.select("path.domain").remove();
styleAxis(cax);
</script></body></html>
